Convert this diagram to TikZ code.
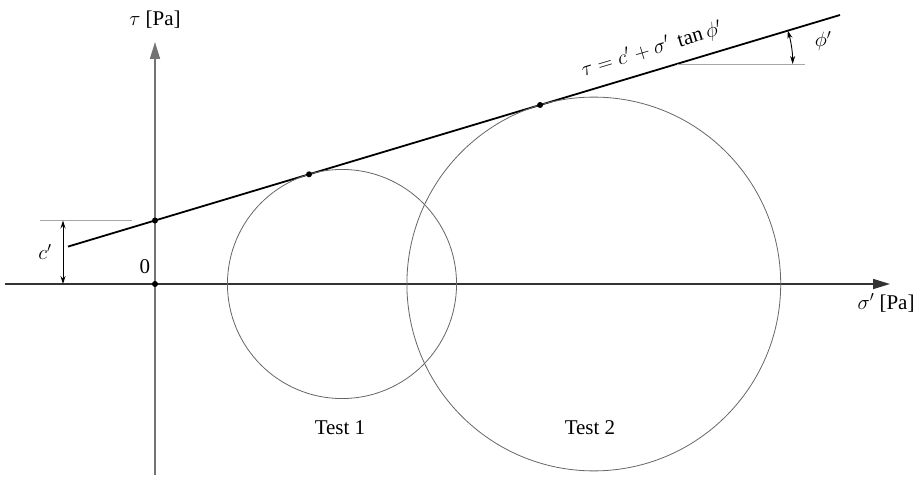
\documentclass[tikz,border=0pt]{standalone}
\usepackage{fontspec}
\setmainfont{Liberation Serif}
\usetikzlibrary{positioning, arrows.meta, calc}

\begin{document}
\begin{tikzpicture}[
        x=1pt, y=1pt,
        font=\fontsize{21}{25}\selectfont,
        axis/.style = {line width=1.6pt, -{Triangle[length=17pt, width=10pt]}},
        envelope/.style = {line width=1.8pt, black},
        mohr/.style = {line width=0.8pt, black!60},
        guide/.style = {line width=0.8pt, black!35},
        dim/.style = {line width=0.9pt, {Stealth[length=8pt, width=5pt]}-{Stealth[length=8pt, width=5pt]}},
        dot/.style = {circle, fill=black, inner sep=0pt, minimum size=6pt},
    ]
        \useasboundingbox (-155,-196) rectangle (767,284);
        \pgfmathsetmacro{\cc}{63.5}
        \pgfmathsetmacro{\tf}{0.3}
        \pgfmathsetmacro{\phiang}{atan(\tf)}
        % axes
        \coordinate (O) at (0,0);
        \coordinate (xs) at (-150,0);
        \coordinate (xe) at (735,0);
        \coordinate (ys) at (0,-191);
        \coordinate (ye) at (0,242);
        \draw[axis, black!80] (xs) -- (xe);
        \draw[axis, black!55] (ys) -- (ye);
        \node (tau) at (0,264) {$\tau$ [Pa]};
        \node (sig) at (731,-19) {$\sigma'$ [Pa]};
        \node (zero) at (-10,17) {0};
        % failure envelope
        \coordinate (envA) at (-87,{\cc-87*\tf});
        \coordinate (envB) at (685,{\cc+685*\tf});
        \draw[envelope] (envA) -- (envB)
            node[pos=0.764, sloped, above=7pt] (law) {$\tau = c' + \sigma'\ \tan\phi'$};
        % Mohr circles
        \foreach \n/\s in {1/187, 2/438.8} {
            \pgfmathsetmacro{\rr}{(\cc+\s*\tf)*cos(\phiang)}
            \coordinate (ctr\n) at (\s,0);
            \draw[mohr] (ctr\n) circle[radius=\rr];
            \node[dot] (tp\n) at ($(ctr\n)+(90+\phiang:\rr)$) {};
        }
        \node (test1) at (185,-144) {Test 1};
        \node (test2) at (435,-144) {Test 2};
        \node[dot] (odot) at (O) {};
        \node[dot] (cdot) at (0,\cc) {};
        % cohesion
        \coordinate (cl) at (-115,\cc);
        \coordinate (cr) at (-23,\cc);
        \coordinate (ctop) at (-92,\cc);
        \coordinate (cbot) at (-92,0);
        \draw[guide] (cl) -- (cr);
        \draw[dim] (ctop) -- (cbot);
        \node (clab) at (-110,32) {$c'$};
        % friction angle
        \pgfmathsetmacro{\px}{(220-\cc)/\tf}
        \coordinate (pv) at (\px,220);
        \coordinate (ph) at (650,220);
        \coordinate (arcst) at ($(pv)+(116,0)$);
        \draw[guide] (pv) -- (ph);
        \draw[dim] (arcst) arc[start angle=0, end angle=\phiang, radius=116];
        \node (philab) at (668,243) {$\phi'$};
    \end{tikzpicture}
\end{document}
